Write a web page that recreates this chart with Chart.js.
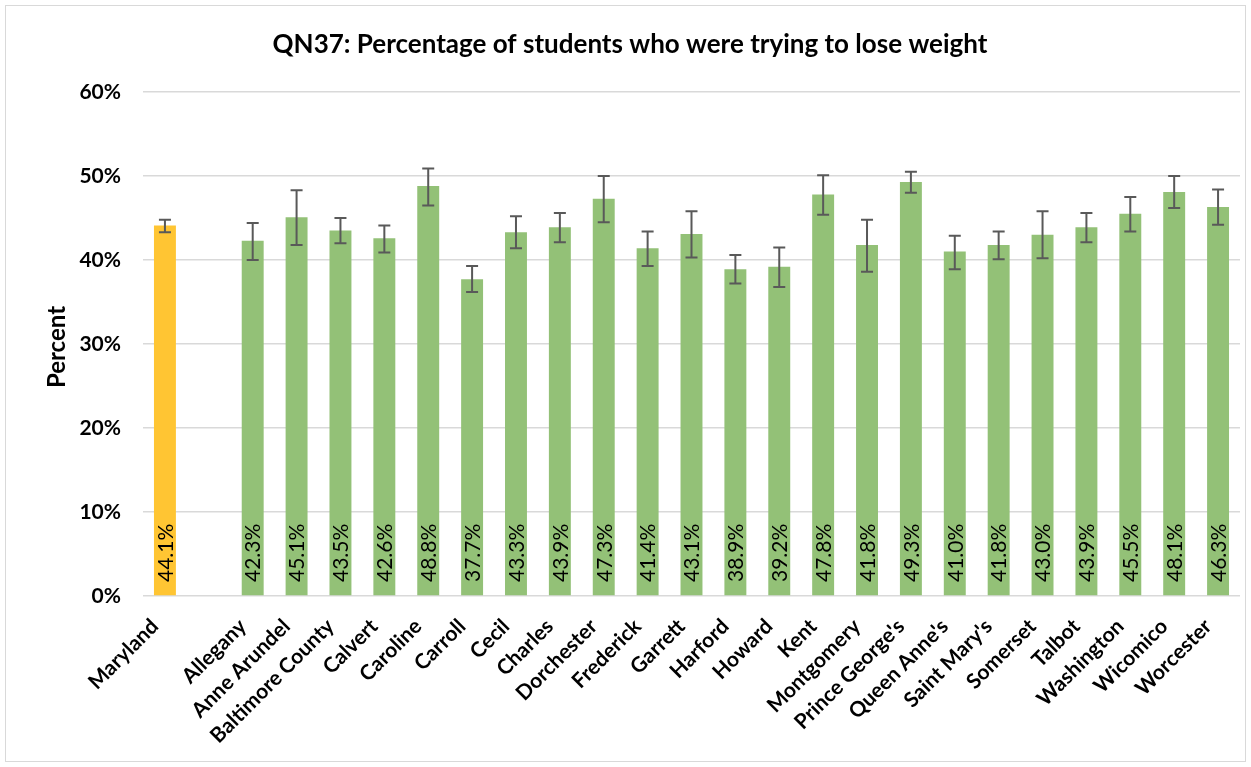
<!DOCTYPE html>
<html>
<head>
<meta charset="utf-8">
<script src="https://cdn.jsdelivr.net/npm/chart.js@4"></script>
<style>
  html, body { margin: 0; padding: 0; background: #fff; }
  #wrap { width: 1251px; height: 767px; position: relative; }
</style>
</head>
<body>
<div id="wrap"><canvas id="c" width="1251" height="767"></canvas></div>
<script>
const categories = ["Maryland", "", "Allegany", "Anne Arundel", "Baltimore County", "Calvert", "Caroline", "Carroll", "Cecil", "Charles", "Dorchester", "Frederick", "Garrett", "Harford", "Howard", "Kent", "Montgomery", "Prince George's", "Queen Anne's", "Saint Mary's", "Somerset", "Talbot", "Washington", "Wicomico", "Worcester"];
const values   = [44.1, null, 42.3, 45.1, 43.5, 42.6, 48.8, 37.7, 43.3, 43.9, 47.3, 41.4, 43.1, 38.9, 39.2, 47.8, 41.8, 49.3, 41.0, 41.8, 43.0, 43.9, 45.5, 48.1, 46.3];
const errLow   = [43.3, null, 40.0, 41.8, 42.0, 40.9, 46.5, 36.2, 41.4, 42.1, 44.5, 39.3, 40.3, 37.2, 36.8, 45.4, 38.6, 48.0, 38.9, 40.1, 40.2, 42.1, 43.4, 46.2, 44.2];
const errHigh  = [44.8, null, 44.4, 48.3, 45.0, 44.1, 50.9, 39.3, 45.2, 45.6, 50.0, 43.4, 45.8, 40.6, 41.5, 50.1, 44.8, 50.5, 42.9, 43.4, 45.8, 45.6, 47.5, 50.0, 48.4];
const yTicks   = [0, 10, 20, 30, 40, 50, 60];
const titleText = "QN37: Percentage of students who were trying to lose weight";
const yTitle = "Percent";

const FONT = "Lato";
Chart.defaults.font.family = FONT;
Chart.defaults.color = "#000";

const barColors = categories.map((c, i) => i === 0 ? "#FFC533" : "#93C177");

const extras = {
  id: "extras",
  beforeDraw(chart) {
    const ctx = chart.ctx;
    ctx.save();
    ctx.fillStyle = "#fff";
    ctx.fillRect(0, 0, chart.width, chart.height);
    ctx.strokeStyle = "#d9d9d9";
    ctx.lineWidth = 1;
    ctx.strokeRect(5.5, 5.5, chart.width - 11, chart.height - 11);
    ctx.restore();
  },
  afterDatasetsDraw(chart) {
    const ctx = chart.ctx;
    const y = chart.scales.y;
    const meta = chart.getDatasetMeta(0);
    ctx.save();
    // data labels
    ctx.fillStyle = "#000";
    ctx.font = "21px " + FONT;
    ctx.textAlign = "left";
    ctx.textBaseline = "middle";
    values.forEach((v, i) => {
      if (v == null) return;
      const px = meta.data[i].x;
      const base = y.getPixelForValue(0);
      ctx.save();
      ctx.translate(px, base - 14);
      ctx.rotate(-Math.PI / 2);
      ctx.fillText(v.toFixed(1) + "%", 0, 1);
      ctx.restore();
    });
    // error bars
    ctx.strokeStyle = "#595959";
    ctx.lineWidth = 2;
    values.forEach((v, i) => {
      if (v == null) return;
      const px = meta.data[i].x;
      const yl = y.getPixelForValue(errLow[i]);
      const yh = y.getPixelForValue(errHigh[i]);
      ctx.beginPath();
      ctx.moveTo(px, yl); ctx.lineTo(px, yh);
      ctx.moveTo(px - 6, yl); ctx.lineTo(px + 6, yl);
      ctx.moveTo(px - 6, yh); ctx.lineTo(px + 6, yh);
      ctx.stroke();
    });
    // title
    ctx.fillStyle = "#000";
    ctx.font = "bold 26px " + FONT;
    ctx.textAlign = "center";
    ctx.textBaseline = "middle";
    ctx.fillText(titleText, 630, 45);
    // y title
    ctx.font = "bold 24px " + FONT;
    ctx.save();
    ctx.translate(57, 347);
    ctx.rotate(-Math.PI / 2);
    ctx.fillText(yTitle, 0, 0);
    ctx.restore();
    ctx.restore();
  }
};

new Chart(document.getElementById("c"), {
  type: "bar",
  data: {
    labels: categories,
    datasets: [{
      data: values,
      backgroundColor: barColors,
      borderWidth: 0,
      barPercentage: 0.5,
      categoryPercentage: 1.0
    }]
  },
  options: {
    responsive: false,
    animation: false,
    layout: { padding: { top: 92, right: 11, left: 0, bottom: 0 } },
    plugins: { legend: { display: false }, tooltip: { enabled: false }, title: { display: false } },
    scales: {
      x: {
        grid: { display: false },
        border: { display: false },
        ticks: { font: { size: 21, weight: "bold" }, color: "#000", minRotation: 45, maxRotation: 45, autoSkip: false, padding: 10, labelOffset: -10 },
        afterFit(scale) { scale.height = 767 - 596; }
      },
      y: {
        min: 0, max: 60,
        afterBuildTicks(scale) { scale.ticks = yTicks.map(v => ({ value: v })); },
        grid: { color: "#d9d9d9", lineWidth: 1.5, drawTicks: false },
        border: { display: false },
        ticks: { font: { size: 21, weight: "bold" }, color: "#000", padding: 22, callback: v => v + "%" },
        afterFit(scale) { scale.width = 143; }
      }
    }
  },
  plugins: [extras]
});
</script>
</body>
</html>
